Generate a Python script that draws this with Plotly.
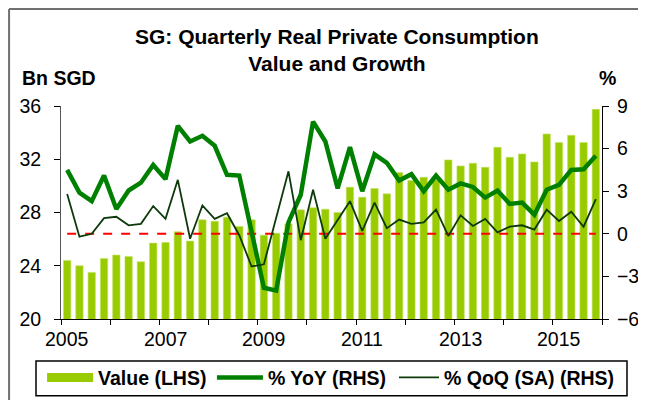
import plotly.graph_objects as go

# quarters 2005Q1 .. 2015Q4
quarters = [f"{y}Q{q}" for y in range(2005, 2016) for q in range(1, 5)]

value_bn_sgd = [24.4, 24.0, 23.5, 24.55, 24.8, 24.7, 24.3, 25.7,
                25.75, 26.55, 25.85, 27.45, 27.35, 27.65, 26.95, 27.45,
                26.3, 26.45, 27.15, 28.2, 28.35, 28.25, 28.0, 29.9,
                29.15, 29.8, 29.4, 31.0, 30.4, 30.65, 30.45, 31.95,
                31.5, 31.7, 31.4, 32.9, 32.15, 32.4, 31.8, 33.9,
                33.25, 33.8, 33.25, 35.75]

yoy_pct = [4.5, 2.9, 2.3, 4.1, 1.75, 3.05, 3.6, 4.85,
           3.85, 7.6, 6.5, 6.9, 6.2, 4.15, 4.1, 0.15,
           -3.8, -4.0, 0.8, 2.75, 7.9, 6.5, 3.2, 6.1,
           3.0, 5.6, 5.0, 3.75, 4.2, 3.0, 4.1, 3.1,
           3.55, 3.3, 2.55, 3.05, 2.1, 2.2, 1.35, 3.1,
           3.45, 4.5, 4.55, 5.5]

qoq_pct = [2.8, -0.2, 0.0, 1.1, 1.2, 0.6, 0.7, 1.95,
           1.05, 3.8, -0.35, 2.0, 1.05, 1.45, -0.1, -2.3,
           -2.15, 1.15, 4.4, -0.45, 3.1, -0.35, 0.95, 2.3,
           0.2, 2.2, 0.4, 1.0, 0.7, 0.8, 1.7, -0.15,
           1.3, 0.55, 1.05, 0.1, 0.5, 0.6, 0.3, 1.7,
           0.9, 1.55, 0.5, 2.45]

years = list(range(2005, 2017))
label_years = [2005, 2007, 2009, 2011, 2013, 2015]

# position each quarter in the middle of its slot on a year scale
xq = [int(q[:4]) + (int(q[-1]) - 0.5) / 4 for q in quarters]

FONT = "Liberation Sans, Arial, sans-serif"
BAR_GREEN = "#99cc00"

fig = go.Figure()

fig.add_trace(go.Bar(
    x=xq, y=value_bn_sgd, showlegend=False,
    marker=dict(color=BAR_GREEN, line=dict(color="#c4e064", width=0.6)),
    yaxis="y",
))
# legend-only entry so the bar key is drawn as a wide block
fig.add_trace(go.Scatter(
    x=[None], y=[None], mode="lines", name="<b>Value (LHS)</b>",
    line=dict(color=BAR_GREEN, width=9), legend="legend",
))
fig.add_trace(go.Scatter(
    x=xq, y=[0] * len(quarters), mode="lines", showlegend=False,
    line=dict(color="#ff0000", width=2, dash="dash"), yaxis="y2",
))
fig.add_trace(go.Scatter(
    x=xq, y=yoy_pct, mode="lines", name="<b>% YoY (RHS)</b>",
    line=dict(color="#008000", width=4.5), yaxis="y2", legend="legend2",
))
fig.add_trace(go.Scatter(
    x=xq, y=qoq_pct, mode="lines", name="<b>% QoQ (SA) (RHS)</b>",
    line=dict(color="#0b3a0b", width=1.8), yaxis="y2", legend="legend3",
))

# year labels sit under the first quarter of each year
annotations = [
    dict(text=str(y), x=y + 0.125, xref="x", y=-0.096, yref="paper",
         xanchor="center", yanchor="middle", showarrow=False,
         font=dict(size=19.5))
    for y in label_years
]
annotations += [
    dict(text="<b>SG: Quarterly Real Private Consumption<br>Value and Growth</b>",
         xref="paper", yref="paper", x=0.511, y=1.263, xanchor="center",
         yanchor="middle", showarrow=False, font=dict(size=21)),
    dict(text="<b>Bn SGD</b>", xref="paper", yref="paper", x=-0.076, y=1.131,
         xanchor="left", yanchor="middle", showarrow=False, font=dict(size=19.5)),
    dict(text="<b>%</b>", xref="paper", yref="paper", x=0.99, y=1.131,
         xanchor="left", yanchor="middle", showarrow=False, font=dict(size=19.5)),
]

legend_style = dict(orientation="h", xanchor="left", yanchor="middle", y=-0.276,
                    borderwidth=0, bgcolor="rgba(0,0,0,0)",
                    font=dict(family=FONT, size=19.5))

# the page body adds an 8px margin, so the figure is 8px smaller each way
fig.update_layout(
    width=638, height=392,
    margin=dict(l=53, r=44, t=98, b=81, autoexpand=False),
    paper_bgcolor="white", plot_bgcolor="white",
    font=dict(family=FONT, size=19.5, color="black"),
    bargap=0.4,
    xaxis=dict(
        range=[2005, 2016], tickvals=years, showticklabels=False,
        showgrid=False, zeroline=False,
        showline=True, linecolor="black", linewidth=1,
        ticks="outside", ticklen=5, tickcolor="black",
    ),
    yaxis=dict(
        range=[20, 36], dtick=4, showgrid=False, zeroline=False,
        showline=True, linecolor="#555555", linewidth=1,
        ticks="outside", ticklen=6, tickcolor="black",
        ticklabelstandoff=9,
    ),
    yaxis2=dict(
        range=[-6, 9], dtick=3, overlaying="y", side="right",
        showgrid=False, zeroline=False,
        showline=True, linecolor="black", linewidth=1,
        ticks="outside", ticklen=6, tickcolor="black",
        ticklabelstandoff=4,
    ),
    legend=dict(legend_style, x=-0.035, itemwidth=46),
    legend2=dict(legend_style, x=0.279, itemwidth=46),
    legend3=dict(legend_style, x=0.6155, itemwidth=40),
    annotations=annotations,
    shapes=[
        # legend frame
        dict(type="rect", xref="paper", yref="paper", x0=-0.0462, x1=1.0462,
             y0=-0.360, y1=-0.197, line=dict(color="black", width=1.5)),
        # outer picture frame (left and top edges)
        dict(type="line", xref="paper", yref="paper", x0=-0.096, x1=-0.096,
             y0=-0.4, y1=1.455, line=dict(color="#707070", width=2)),
        dict(type="line", xref="paper", yref="paper", x0=-0.096, x1=1.1,
             y0=1.455, y1=1.455, line=dict(color="#707070", width=2)),
    ],
)

fig.write_html("out.html")
